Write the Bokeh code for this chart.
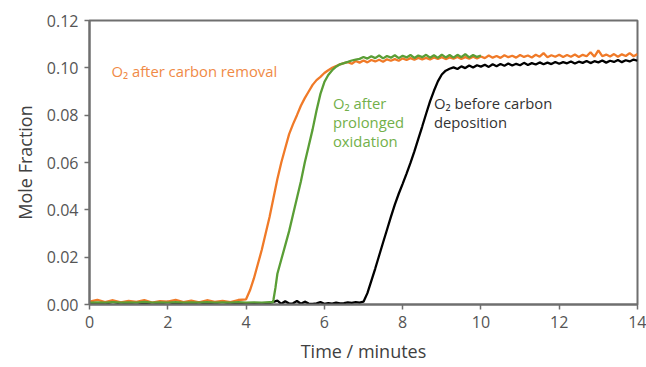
from bokeh.plotting import figure
from bokeh.models import FixedTicker, NumeralTickFormatter, Label
from bokeh.embed import file_html
from bokeh.resources import INLINE

# ---------------- data ----------------
black_x = [0.0, 0.2, 0.4, 0.6, 0.8, 1.0, 1.2, 1.4, 1.6, 1.8, 2.0, 2.2, 2.4, 2.6, 2.8, 3.0,
           3.2, 3.4, 3.6, 3.8, 4.0, 4.2, 4.4, 4.6, 4.8, 4.9, 5.0, 5.1, 5.2, 5.3, 5.4, 5.5,
           5.6, 5.7, 5.8, 5.9, 6.0, 6.1, 6.2, 6.3, 6.4, 6.5, 6.6, 6.7, 6.8, 6.9, 7.0,
           7.1, 7.2, 7.3, 7.4, 7.5, 7.6, 7.7, 7.8, 7.9, 8.0, 8.1, 8.2, 8.3, 8.4, 8.5,
           8.6, 8.7, 8.8, 8.9, 9.0, 9.1, 9.2,
           9.3, 9.4, 9.5, 9.6, 9.7, 9.8, 9.9, 10.0, 10.1, 10.2, 10.3, 10.4, 10.5, 10.6,
           10.7, 10.8, 10.9, 11.0, 11.1, 11.2, 11.3, 11.4, 11.5, 11.6, 11.7, 11.8, 11.9,
           12.0, 12.1, 12.2, 12.3, 12.4, 12.5, 12.6, 12.7, 12.8, 12.9, 13.0, 13.1, 13.2,
           13.3, 13.4, 13.5, 13.6, 13.7, 13.8, 13.9, 14.0]
black_y = [0.0004, 0.0006, 0.0003, 0.0012, 0.0004, 0.0005, 0.0010, 0.0003, 0.0006, 0.0004,
           0.0011, 0.0004, 0.0005, 0.0003, 0.0009, 0.0004, 0.0005, 0.0012, 0.0004, 0.0006,
           0.0003, 0.0005, 0.0004, 0.0006, 0.0016, 0.0003, 0.0014, 0.0004, 0.0005, 0.0015,
           0.0003, 0.0012, 0.0004, 0.0003, 0.0005, 0.0010, 0.0003, 0.0006, 0.0004, 0.0008,
           0.0005, 0.0006, 0.0009, 0.0007, 0.0010, 0.0008, 0.0012,
           0.0048, 0.0100, 0.0152, 0.0207, 0.0262, 0.0316, 0.0370, 0.0422, 0.0468, 0.0510,
           0.0553, 0.0598, 0.0647, 0.0700, 0.0752, 0.0806, 0.0858, 0.0903, 0.0943, 0.0972,
           0.0988, 0.0996,
           0.1002, 0.0995, 0.1006, 0.0999, 0.1010, 0.1001, 0.1011, 0.1005, 0.1013, 0.1004,
           0.1015, 0.1007, 0.1016, 0.1009, 0.1018, 0.1010, 0.1017, 0.1011, 0.1021, 0.1012,
           0.1020, 0.1014, 0.1023, 0.1015, 0.1022, 0.1016, 0.1025, 0.1017, 0.1024, 0.1019,
           0.1027, 0.1018, 0.1026, 0.1021, 0.1029, 0.1020, 0.1028, 0.1023, 0.1031, 0.1022,
           0.1030, 0.1025, 0.1033, 0.1024, 0.1032, 0.1027, 0.1035, 0.1030]

orange_x = [0.0, 0.2, 0.4, 0.6, 0.8, 1.0, 1.2, 1.4, 1.6, 1.8, 2.0, 2.2, 2.4, 2.6, 2.8, 3.0,
            3.2, 3.4, 3.6, 3.8, 4.0,
            4.1, 4.2, 4.3, 4.4, 4.5, 4.6, 4.7, 4.8, 4.9, 5.0, 5.1, 5.2, 5.3, 5.4, 5.5, 5.6,
            5.7, 5.8, 5.9, 6.0, 6.1, 6.2, 6.3, 6.4, 6.5,
            6.6, 6.7, 6.8, 6.9, 7.0, 7.1, 7.2, 7.3, 7.4, 7.5, 7.6, 7.7, 7.8, 7.9, 8.0, 8.1,
            8.2, 8.3, 8.4, 8.5, 8.6, 8.7, 8.8, 8.9, 9.0, 9.1, 9.2, 9.3, 9.4, 9.5, 9.6, 9.7,
            9.8, 9.9, 10.0, 10.1, 10.2, 10.3, 10.4, 10.5, 10.6, 10.7, 10.8, 10.9, 11.0, 11.1,
            11.2, 11.3, 11.4, 11.5, 11.6, 11.7, 11.8, 11.9, 12.0, 12.1, 12.2, 12.3, 12.4,
            12.5, 12.6, 12.7, 12.8, 12.9, 13.0, 13.1, 13.2, 13.3, 13.4, 13.5, 13.6, 13.7,
            13.8, 13.9, 14.0]
orange_y = [0.0012, 0.0020, 0.0010, 0.0018, 0.0009, 0.0015, 0.0011, 0.0019, 0.0008, 0.0014,
            0.0012, 0.0020, 0.0010, 0.0016, 0.0009, 0.0018, 0.0011, 0.0015, 0.0010, 0.0019,
            0.0022,
            0.0060, 0.0110, 0.0170, 0.0230, 0.0300, 0.0370, 0.0450, 0.0530, 0.0600, 0.0660,
            0.0720, 0.0762, 0.0800, 0.0840, 0.0872, 0.0900, 0.0928, 0.0948, 0.0962, 0.0978,
            0.0990, 0.1000, 0.1008, 0.1015, 0.1020,
            0.1024, 0.1017, 0.1029, 0.1022, 0.1031, 0.1023, 0.1033, 0.1027, 0.1034, 0.1026,
            0.1036, 0.1030, 0.1037, 0.1030, 0.1040, 0.1033, 0.1041, 0.1034, 0.1042, 0.1036,
            0.1042, 0.1035, 0.1044, 0.1038, 0.1045, 0.1037, 0.1044, 0.1039, 0.1046, 0.1038,
            0.1045, 0.1039, 0.1047, 0.1040, 0.1048, 0.1041, 0.1052, 0.1043, 0.1050, 0.1042,
            0.1053, 0.1045, 0.1051, 0.1043, 0.1054, 0.1046, 0.1052, 0.1044, 0.1055, 0.1047,
            0.1062, 0.1045, 0.1053, 0.1047, 0.1055, 0.1046, 0.1054, 0.1047, 0.1056, 0.1046,
            0.1055, 0.1049, 0.1066, 0.1047, 0.1074, 0.1049, 0.1056, 0.1048, 0.1058, 0.1047,
            0.1057, 0.1050, 0.1062, 0.1049, 0.1058]

green_x = [0.0, 0.2, 0.4, 0.6, 0.8, 1.0, 1.2, 1.4, 1.6, 1.8, 2.0, 2.2, 2.4, 2.6, 2.8, 3.0,
           3.2, 3.4, 3.6, 3.8, 4.0, 4.2, 4.4, 4.6, 4.68,
           4.7, 4.75, 4.8, 4.9, 5.0, 5.1, 5.2, 5.3, 5.4, 5.5, 5.6, 5.7, 5.8, 5.9, 6.0, 6.1,
           6.2, 6.3, 6.4, 6.5, 6.6, 6.7, 6.8,
           6.9, 7.0, 7.1, 7.2, 7.3, 7.4, 7.5, 7.6, 7.7, 7.8, 7.9, 8.0, 8.1, 8.2, 8.3, 8.4,
           8.5, 8.6, 8.7, 8.8, 8.9, 9.0, 9.1, 9.2, 9.3, 9.4, 9.5, 9.6, 9.7, 9.8, 9.9, 10.0]
green_y = [0.0008, 0.0009, 0.0008, 0.0010, 0.0008, 0.0009, 0.0008, 0.0011, 0.0008, 0.0009,
           0.0008, 0.0010, 0.0008, 0.0009, 0.0008, 0.0010, 0.0008, 0.0009, 0.0008, 0.0010,
           0.0008, 0.0009, 0.0008, 0.0010, 0.0008,
           0.0020, 0.0070, 0.0130, 0.0190, 0.0250, 0.0310, 0.0380, 0.0450, 0.0520, 0.0600,
           0.0670, 0.0740, 0.0820, 0.0890, 0.0940, 0.0970, 0.0990, 0.1005, 0.1015, 0.1020,
           0.1025, 0.1031, 0.1035,
           0.1038, 0.1046, 0.1039, 0.1049, 0.1041, 0.1052, 0.1040, 0.1050, 0.1043, 0.1053,
           0.1041, 0.1051, 0.1044, 0.1054, 0.1042, 0.1052, 0.1045, 0.1055, 0.1043, 0.1053,
           0.1042, 0.1056, 0.1044, 0.1054, 0.1043, 0.1055, 0.1045, 0.1058, 0.1044, 0.1054,
           0.1046, 0.1052]

x_ticks = [0, 2, 4, 6, 8, 10, 12, 14]
y_ticks = [0.0, 0.02, 0.04, 0.06, 0.08, 0.10, 0.12]

# ---------------- figure ----------------
FONT = "Open Sans"
p = figure(width=646, height=367, x_range=(0, 14), y_range=(0, 0.12),
           output_backend="svg", toolbar_location=None,
           min_border_left=89, min_border_right=9, min_border_top=20, min_border_bottom=63)
p.background_fill_color = "white"
p.border_fill_color = "white"
p.grid.visible = False
p.outline_line_color = "#6f6f6f"
p.outline_line_width = 2

p.line(black_x, black_y, color="#000000", line_width=2.3)
p.line(orange_x, orange_y, color="#F07A28", line_width=2.3)
p.line(green_x, green_y, color="#5A9E36", line_width=2.3)

for ax in (p.xaxis[0], p.yaxis[0]):
    ax.axis_line_color = "#6f6f6f"
    ax.axis_line_width = 2
    ax.major_tick_line_color = "#6f6f6f"
    ax.major_tick_line_width = 1.5
    ax.major_tick_out = 5
    ax.major_tick_in = 0
    ax.minor_tick_line_color = None
    ax.major_label_text_font = FONT
    ax.major_label_text_font_size = "16px"
    ax.major_label_text_color = "#555555"
    ax.axis_label_text_font = FONT
    ax.axis_label_text_font_size = "18px"
    ax.axis_label_text_font_style = "normal"
    ax.axis_label_text_color = "#404040"

p.xaxis.ticker = FixedTicker(ticks=x_ticks)
p.yaxis.ticker = FixedTicker(ticks=y_ticks)
p.yaxis.formatter = NumeralTickFormatter(format="0.00")
p.xaxis.axis_label = "Time / minutes"
p.yaxis.axis_label = "Mole Fraction"
p.xaxis.major_label_standoff = 6
p.yaxis.major_label_standoff = 6
p.xaxis.axis_label_standoff = 8
p.yaxis.axis_label_standoff = 7

def add_label(x, y, text, color):
    p.add_layout(Label(x=x, y=y, text=text, text_color=color, text_font=FONT,
                       text_font_size="14.8px", text_baseline="middle"))

add_label(0.56, 0.0985, "O₂ after carbon removal", "#F08A46")
add_label(6.22, 0.0850, "O₂ after", "#72B04A")
add_label(6.22, 0.0770, "prolonged", "#72B04A")
add_label(6.22, 0.0690, "oxidation", "#72B04A")
add_label(8.80, 0.0850, "O₂ before carbon", "#333333")
add_label(8.80, 0.0772, "deposition", "#333333")

open("out.html", "w").write(file_html(p, INLINE))
